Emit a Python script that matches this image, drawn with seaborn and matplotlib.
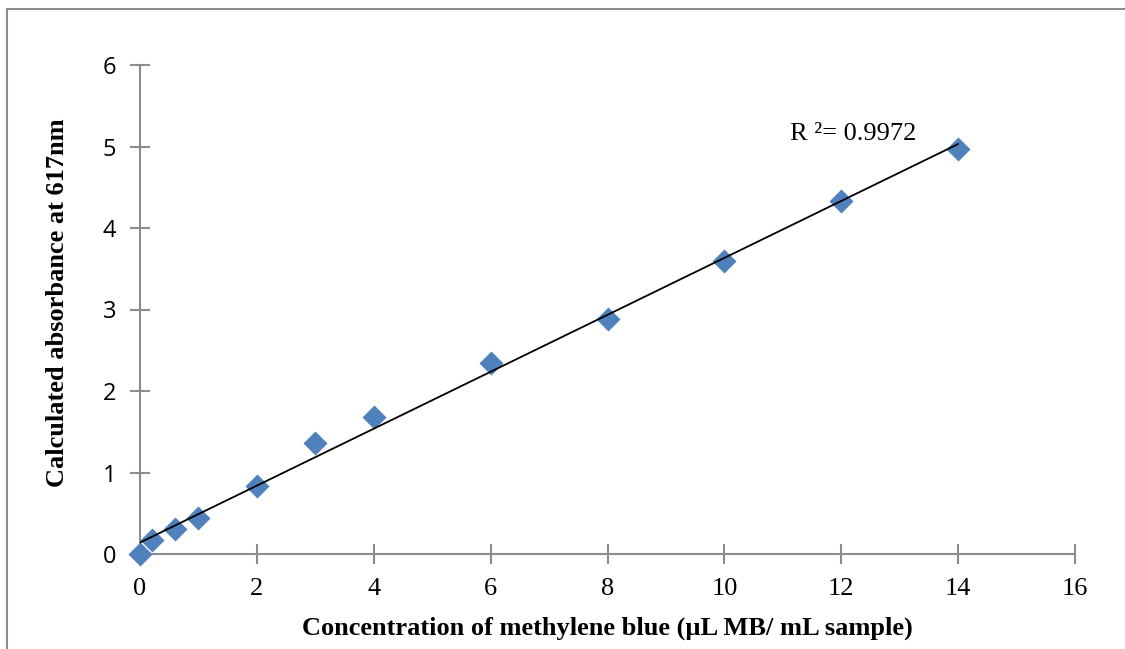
import numpy as np
import pandas as pd
import matplotlib
matplotlib.use("Agg")
import matplotlib.pyplot as plt
import seaborn as sns
from matplotlib.lines import Line2D

concentration = [0, 0.2, 0.6, 1, 2, 3, 4, 6, 8, 10, 12, 14]
absorbance = [0.0, 0.17, 0.31, 0.44, 0.84, 1.36, 1.68, 2.34, 2.88, 3.60, 4.33, 4.97]
x_ticks = [0, 2, 4, 6, 8, 10, 12, 14, 16]
y_ticks = [0, 1, 2, 3, 4, 5, 6]
r2_label = "R ²= 0.9972"
x_label = "Concentration of methylene blue (µL MB/ mL sample)"
y_label = "Calculated absorbance at 617nm"

df = pd.DataFrame({"conc": concentration, "abs": absorbance})

sns.set_style("white")
plt.rcParams["text.color"] = "black"
plt.rcParams["axes.labelcolor"] = "black"
plt.rcParams["xtick.color"] = "black"
plt.rcParams["ytick.color"] = "black"

fig = plt.figure(figsize=(11.25, 6.49), dpi=100)
ax = fig.add_axes([140/1125, 1-554/649, (1075-140)/1125, (554-65)/649])

sns.scatterplot(data=df, x="conc", y="abs", marker="D", s=150, color="#4F81BD",
                edgecolor="#4F81BD", linewidth=0, ax=ax, zorder=3, clip_on=False)
sns.regplot(data=df, x="conc", y="abs", ci=None, scatter=False, ax=ax,
            line_kws=dict(color="black", lw=1.3, zorder=4))

ax.set_xlim(0, 16)
ax.set_ylim(0, 6)
ax.set_xticks(x_ticks)
ax.set_yticks(y_ticks)
ax.set_xticklabels([str(t) for t in x_ticks], family="Liberation Serif", fontsize=19)
ax.set_yticklabels([str(t) for t in y_ticks], family="Open Sans", fontsize=17)
for s in ["top", "right"]:
    ax.spines[s].set_visible(False)
for s in ["left", "bottom"]:
    ax.spines[s].set_color("#8C8C8C")
    ax.spines[s].set_linewidth(1.5)
ax.tick_params(axis="both", which="major", bottom=True, left=True, direction="inout",
               length=14, width=1.5, color="#8C8C8C", labelcolor="black")
ax.tick_params(axis="x", pad=10)
ax.tick_params(axis="y", pad=10)
ax.set_xlabel(x_label, family="Liberation Serif", fontweight="bold", fontsize=19, labelpad=12)
ax.set_ylabel(y_label, family="Liberation Serif", fontweight="bold", fontsize=19)
ax.yaxis.set_label_coords(-0.076, 0.513)
ax.grid(False)

ax.text(11.12, 5.15, r2_label, family="Liberation Serif", fontsize=19, va="center", ha="left")

# outer chart-area border (left and top edges visible)
fig.add_artist(Line2D([7/1125, 7/1125], [0, 1-9/649], transform=fig.transFigure,
                      color="#8C8C8C", lw=1.5))
fig.add_artist(Line2D([7/1125, 1], [1-9/649, 1-9/649], transform=fig.transFigure,
                      color="#8C8C8C", lw=1.5))

fig.savefig("out.png", dpi=100)
